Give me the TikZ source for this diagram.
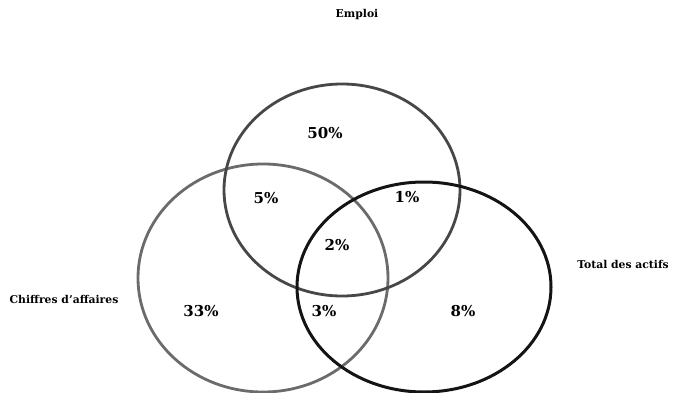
\documentclass[tikz,border=0pt]{standalone}
\usepackage{fontspec}
\setmainfont{DejaVu Serif}
\tikzset{
  setlabel/.style={font=\bfseries\fontsize{10.8}{12}\selectfont},
  share/.style={font=\bfseries\fontsize{15}{17}\selectfont},
}
\begin{document}
\begin{tikzpicture}[x=1pt,y=-1pt]
\useasboundingbox (0,0) rectangle (677,393);
% the three sets
\draw[line width=2.8pt,black!58] (263,278) ellipse [x radius=125pt, y radius=114pt];
\draw[line width=2.8pt,black!72] (342,190) ellipse [x radius=118pt, y radius=106pt];
\draw[line width=3pt,black!92] (424,287) ellipse [x radius=127pt, y radius=105pt];
%
\node[setlabel] (emploi) at (357,15) {Emploi};
\node[setlabel] (chiffres) at (64,299) {Chiffres d’affaires};
\node[setlabel] (actifs) at (623,264) {Total des actifs};
%
\node[share] (e) at (325,133) {50\%};
\node[share] (ec) at (266,198) {5\%};
\node[share] (ea) at (407,197) {1\%};
\node[share] (eca) at (337,245) {2\%};
\node[share] (c) at (201,311) {33\%};
\node[share] (ca) at (324,311) {3\%};
\node[share] (a) at (463,311) {8\%};
\end{tikzpicture}
\end{document}
